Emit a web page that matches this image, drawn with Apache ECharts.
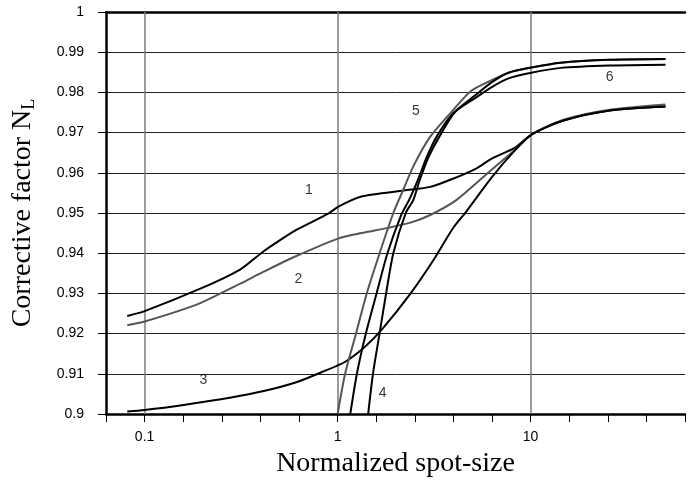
<!DOCTYPE html>
<html><head><meta charset="utf-8">
<script src="https://cdn.jsdelivr.net/npm/echarts@6/dist/echarts.min.js"></script>
<style>html,body{margin:0;padding:0;background:#fff}#c{width:688px;height:491px}</style>
</head><body><div id="c"></div>
<script>
// axis tick labels
const xTickValues = [0.1, 1, 10];
const xTickLabels = ['0.1', '1', '10'];
const yMin = 0.9, yMax = 1, yStep = 0.01;

// curve 1
const c1x = [0.0813, 0.1, 0.197, 0.314, 0.414, 0.501, 0.611, 0.899, 1.01, 1.33, 2.21, 3.02, 3.81, 5.19, 6.32, 8.27, 10.1, 14.8, 25.7, 50];
const c1y = [0.9244, 0.9256, 0.9313, 0.936, 0.9405, 0.9432, 0.9458, 0.9499, 0.9516, 0.9541, 0.9556, 0.9565, 0.9582, 0.9610, 0.9636, 0.9662, 0.9695, 0.973, 0.9755, 0.9765];
// curve 2
const c2x = [0.0813, 0.1, 0.19, 0.315, 0.414, 0.611, 1.014, 1.33, 1.82, 2.39, 3.02, 4.12, 6.32, 8.27, 10.1, 14.8, 25.7, 50];
const c2y = [0.9221, 0.923, 0.9274, 0.9325, 0.9354, 0.9393, 0.9437, 0.945, 0.9463, 0.9476, 0.9495, 0.9532, 0.9609, 0.9657, 0.9695, 0.9732, 0.9757, 0.977];
// curve 3
const c3x = [0.0813, 0.1, 0.156, 0.281, 0.414, 0.611, 0.836, 1.096, 1.386, 1.715, 2.39, 3.14, 3.96, 4.63, 6.32, 8.27, 10.1, 14.8, 25.7, 50];
const c3y = [0.9006, 0.901, 0.9022, 0.9041, 0.9057, 0.9079, 0.9105, 0.9130, 0.9167, 0.9213, 0.930, 0.9383, 0.9462, 0.9503, 0.959, 0.9655, 0.9695, 0.973, 0.9755, 0.9765];
// curve 4 (rightmost steep curve)
const c4x = [1.44, 1.527, 1.651, 1.785, 1.944, 2.255, 2.465, 2.665, 2.96, 3.366, 4.059, 5.127, 6.327, 7.687, 10.09, 14.33, 25.7, 50];
const c4y = [0.9, 0.9102, 0.9201, 0.9301, 0.94, 0.95, 0.9532, 0.9582, 0.9639, 0.969, 0.9751, 0.9785, 0.9814, 0.9835, 0.9849, 0.9861, 0.9867, 0.9869];
// curve 5 (grey steep curve)
const c5x = [1.0, 1.096, 1.247, 1.418, 1.651, 1.944, 2.185, 2.485, 3.02, 3.966, 4.893, 6.327, 7.687, 10.09, 14.33, 25.7, 50];
const c5y = [0.9, 0.9102, 0.9201, 0.9301, 0.94, 0.95, 0.9557, 0.9619, 0.969, 0.9756, 0.9803, 0.9831, 0.9849, 0.9862, 0.9874, 0.9881, 0.9883];
// curve 6 (middle steep curve)
const c6x = [1.163, 1.261, 1.402, 1.594, 1.813, 2.135, 2.344, 2.604, 2.902, 3.262, 3.966, 5.205, 6.327, 7.687, 10.09, 14.33, 25.7, 50];
const c6y = [0.9, 0.9102, 0.9201, 0.9301, 0.94, 0.9495, 0.9532, 0.9582, 0.964, 0.969, 0.9748, 0.9794, 0.9826, 0.9849, 0.9862, 0.9874, 0.9881, 0.9883];

// curve number labels
const labelText = ['1', '2', '3', '4', '5', '6'];
const labelX = [0.71, 0.626, 0.2015, 1.71, 2.543, 25.7];
const labelY = [0.9557, 0.9336, 0.9083, 0.9053, 0.9754, 0.9837];

const zip = (xs, ys) => xs.map((x, i) => [x, ys[i]]);
const sans = "'Liberation Sans', Arial, sans-serif";
const serif = "'Liberation Serif', 'Times New Roman', serif";

const curveDefs = [
  {name: '1', x: c1x, y: c1y, color: '#000'},
  {name: '2', x: c2x, y: c2y, color: '#555'},
  {name: '3', x: c3x, y: c3y, color: '#000'},
  {name: '4', x: c4x, y: c4y, color: '#000'},
  {name: '5', x: c5x, y: c5y, color: '#555'},
  {name: '6', x: c6x, y: c6y, color: '#000'}
];

const series = curveDefs.map(c => ({
  type: 'line', name: c.name, data: zip(c.x, c.y),
  showSymbol: false, symbol: 'none', smooth: 0.25,
  lineStyle: {color: c.color, width: 2}, z: 3, silent: true, animation: false
}));

series.push({
  type: 'line', data: [], silent: true, animation: false, z: 1,
  markLine: {
    silent: true, symbol: 'none', z: 1, animation: false,
    label: {show: false},
    lineStyle: {color: '#7a7a7a', width: 1.5, type: 'solid'},
    data: xTickValues.map(v => ({xAxis: v}))
  }
});

series.push({
  type: 'scatter', data: labelText.map((t, i) => ({value: [labelX[i], labelY[i]], name: t})),
  symbolSize: 1, itemStyle: {color: 'rgba(0,0,0,0)'}, silent: true, animation: false, z: 4,
  label: {show: true, position: 'inside', formatter: p => p.name, fontFamily: sans, fontSize: 14, color: '#000', textBorderWidth: 0}
});

const chart = echarts.init(document.getElementById('c'), null, {renderer: 'canvas'});
chart.setOption({
  animation: false,
  backgroundColor: '#fff',
  grid: {left: 106, top: 12, width: 591, height: 402, containLabel: false},
  xAxis: [{
    type: 'log', logBase: 10, min: Math.pow(10, -1.2), max: Math.pow(10, 1.8), interval: 0.2,
    position: 'bottom',
    name: 'Normalized spot-size', nameLocation: 'middle', nameGap: 36,
    nameTextStyle: {fontFamily: serif, fontSize: 28, color: '#000'},
    axisLine: {show: true, lineStyle: {color: '#000', width: 2.5}},
    axisTick: {show: true, inside: false, length: 8, lineStyle: {color: '#000', width: 1}},
    axisLabel: {
      show: true, margin: 16, fontFamily: sans, fontSize: 14, color: '#000',
      showMinLabel: true, showMaxLabel: true, hideOverlap: false,
      formatter: v => {
        for (let i = 0; i < xTickValues.length; i++) {
          if (Math.abs(Math.log10(v) - Math.log10(xTickValues[i])) < 1e-3) return xTickLabels[i];
        }
        return '';
      }
    },
    splitLine: {show: false}, minorTick: {show: false}
  }, {
    type: 'value', position: 'top', min: 0, max: 1,
    axisLine: {show: true, lineStyle: {color: '#000', width: 2.5}},
    axisTick: {show: false}, axisLabel: {show: false}, splitLine: {show: false}
  }],
  yAxis: {
    type: 'value', min: yMin, max: yMax, interval: yStep,
    name: 'Corrective factor N{sub|L}', nameLocation: 'middle', nameGap: 68,
    nameTextStyle: {
      fontFamily: serif, fontSize: 28, color: '#000',
      rich: {sub: {fontFamily: serif, fontSize: 18, color: '#000', padding: [12, 0, 0, 0]}}
    },
    axisLine: {show: true, lineStyle: {color: '#000', width: 2.5}},
    axisTick: {show: true, inside: false, length: 8, lineStyle: {color: '#000', width: 1}},
    axisLabel: {margin: 22, fontFamily: sans, fontSize: 14, color: '#000',
      formatter: v => String(Math.round(v * 100) / 100)},
    splitLine: {show: true, lineStyle: {color: '#222', width: 1}}
  },
  series: series
});
</script>
</body></html>
